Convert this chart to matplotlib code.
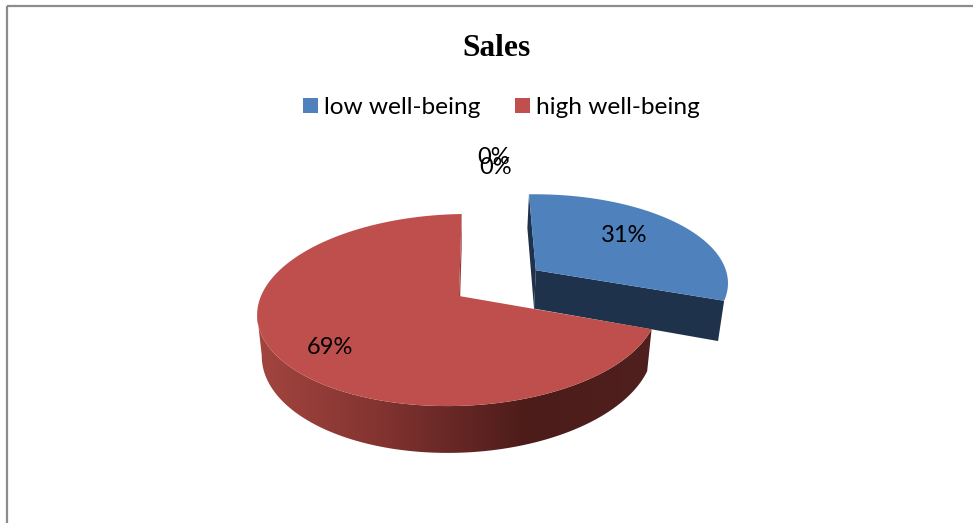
import numpy as np
import matplotlib as mpl
import matplotlib.pyplot as plt
from matplotlib.colors import LinearSegmentedColormap
from matplotlib.patches import Patch, Polygon, Rectangle

mpl.use("Agg")

categories = ["low well-being", "high well-being", "", ""]
values = [31, 69, 0, 0]
title = "Sales"

colors = ["#4F81BD", "#BE4F4C"]
legend_colors = ["#4F81BD", "#C0504D"]
wall_colors = ["#1E324C", "#8E3A37"]

# pie geometry, all in figure pixels
first_angle = -2.0
explode = [0.483, 0.0]
center = (459.0, 296.0)
radius_x, radius_y = 198.0, 94.0
skew = 10.0
persp = 0.146
depth = 40.0
base_shrink = 0.977


def project(x, y, down=False):
    # perspective view of a point on the pie disc, optionally on its lower face
    s = 1.0 / (1.0 + persp * np.asarray(y))
    px = center[0] + (radius_x * np.asarray(x) + skew * np.asarray(y)) * s
    py = center[1] - radius_y * np.asarray(y) * s
    if down:
        px = center[0] + (px - center[0]) * base_shrink
        py = py + depth * s
    return np.column_stack([px, py])


def rim(a0, a1, off, down=False, n=360):
    t = np.radians(np.linspace(a0, a1, n))
    return project(off[0] + np.sin(t), off[1] + np.cos(t), down)


def wall(angle, off):
    t = np.radians(angle)
    x = np.array([off[0], off[0] + np.sin(t)])
    y = np.array([off[1], off[1] + np.cos(t)])
    return np.vstack([project(x, y), project(x, y, True)[::-1]])


fig = plt.figure(figsize=(9.73, 5.23), dpi=100)
ax = fig.add_axes([0, 0, 1, 1])
ax.set_xlim(0, 973)
ax.set_ylim(523, 0)
ax.axis("off")

# outer frame, runs off the right and bottom of the canvas
ax.add_patch(Rectangle((7, 6), 1000, 600, fill=False, edgecolor="#8C8C8C", linewidth=1.6))

total = sum(values)
sweep = [v / total * 360.0 for v in values]
starts = first_angle + np.cumsum([0.0] + sweep[:-1])

# low well-being slice, pulled out from the centre
a0, a1 = starts[0], starts[0] + sweep[0]
mid = np.radians((a0 + a1) / 2)
off = (explode[0] * np.sin(mid), explode[0] * np.cos(mid))
ax.add_patch(Polygon(wall(a0, off), color=wall_colors[0], lw=0, zorder=2))
ax.add_patch(Polygon(wall(a1, off), color=wall_colors[0], lw=0, zorder=2))
top = np.vstack([project(off[0], off[1])[None, 0], rim(a0, a1, off)])
ax.add_patch(Polygon(top, color=colors[0], lw=0, zorder=3))

# high well-being slice, side band shaded left to right
a0, a1 = starts[1], starts[1] + sweep[1]
off = (0.0, 0.0)
side_cmap = LinearSegmentedColormap.from_list(
    "side", [(0.0, "#A3453F"), (0.3, "#843431"), (0.68, "#4C1C1A"), (1.0, "#50201F")]
)
# stop each rim at its leftmost point so the outline closes with a straight edge
upper = rim(a0, a1, off)
lower = rim(a0, a1, off, True)
upper = upper[: np.argmin(upper[:, 0]) + 1]
lower = lower[: np.argmin(lower[:, 0]) + 1]
band = np.vstack([upper, lower[::-1]])
clip = Polygon(band, transform=ax.transData, fill=False, lw=0, zorder=4)
ax.add_patch(clip)
img = ax.imshow(
    np.linspace(0, 1, 256)[None, :],
    extent=(256, 655, 460, 200),
    cmap=side_cmap,
    aspect="auto",
    zorder=4,
)
img.set_clip_path(clip)
ax.set_xlim(0, 973)
ax.set_ylim(523, 0)
ax.add_patch(Polygon(wall(a1, off), color=wall_colors[1], lw=0, zorder=4))
top = np.vstack([project(off[0], off[1])[None, 0], rim(a0, a1, off)])
ax.add_patch(Polygon(top, color=colors[1], lw=0, zorder=5))

# percentage labels
label_pos = [(624, 235), (330, 347), (493.5, 157), (495.5, 168)]
for v, (lx, ly) in zip(values, label_pos):
    ax.text(lx, ly, f"{v / total * 100:.0f}%", family="Lato", fontsize=17,
            color="black", ha="center", va="center", zorder=6)

ax.text(496, 48, title, family="Liberation Serif", fontweight="bold", fontsize=22.6,
        ha="center", va="center", color="black")

handles = [Patch(facecolor=c, edgecolor="none", label=n) for c, n in zip(legend_colors, categories)]
ax.legend(
    handles=handles,
    loc="center",
    bbox_to_anchor=(501.5, 107.5),
    bbox_transform=ax.transData,
    ncol=2,
    frameon=False,
    prop={"family": "Lato", "size": 17.6},
    handlelength=0.61,
    handleheight=0.61,
    handletextpad=0.25,
    columnspacing=1.4,
    borderpad=0,
)

fig.savefig("out.png", dpi=100)
